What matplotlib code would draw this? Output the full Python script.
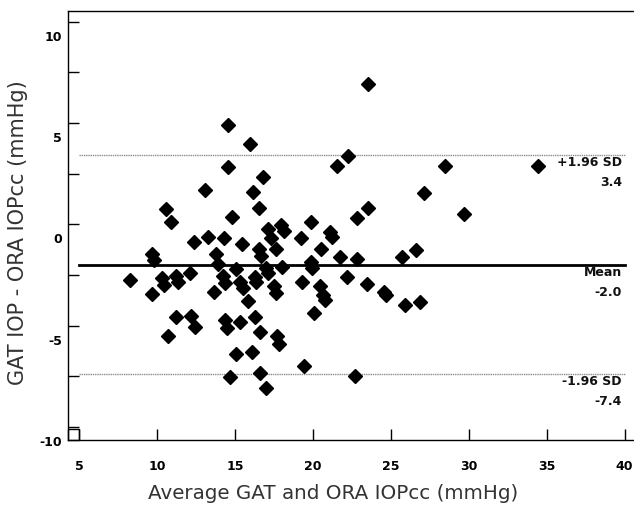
import matplotlib
matplotlib.use("Agg")
import matplotlib.pyplot as plt
import matplotlib.transforms as mtransforms
from matplotlib.patches import Rectangle

avg = [8.30, 9.68, 9.82, 9.68, 10.32, 10.46, 10.60, 10.92, 10.69, 11.23,
       11.35, 11.23, 12.14, 12.21, 12.45, 12.40, 13.10, 13.29, 13.64, 13.76,
       13.92, 14.30, 14.23, 14.39, 14.34, 14.48, 14.53, 14.53, 14.70, 14.79,
       15.07, 15.09, 15.35, 15.52, 15.35, 15.47, 15.82, 15.96, 16.08, 16.19,
       16.27, 16.36, 16.27, 16.57, 16.55, 16.69, 16.59, 16.62, 16.83, 17.01,
       16.97, 17.11, 17.13, 17.29, 17.53, 17.65, 17.62, 17.69, 17.83, 18.02,
       17.93, 18.18, 19.24, 19.33, 19.43, 19.87, 19.87, 19.96, 20.10, 20.46,
       20.55, 20.64, 20.76, 21.11, 21.25, 21.53, 21.74, 22.19, 22.26, 22.68,
       22.82, 22.85, 23.45, 23.52, 23.52, 24.58, 24.70, 25.73, 25.91, 26.62,
       26.85, 27.15, 28.49, 29.71, 34.46]
diff = [-2.75, -1.46, -1.76, -3.45, -2.63, -2.99, 0.76, 0.13, -5.51, -2.55,
        -2.86, -4.55, -2.40, -4.52, -5.05, -0.85, 1.68, -0.64, -3.34, -1.48,
        -1.96, -0.67, -2.55, -2.88, -4.74, -5.10, 4.92, 2.81, -7.51, 0.38,
        -2.20, -6.38, -2.86, -3.16, -4.80, -0.97, -3.78, 3.96, -6.28, 1.58,
        -2.60, -2.86, -4.59, 0.79, -1.20, -1.56, -5.31, -7.35, 2.35, -8.06,
        -2.17, -0.23, -2.42, -0.69, -3.04, -3.40, -1.22, -5.51, -5.89, -2.10,
        -0.03, -0.34, -0.67, -2.84, -7.00, 0.10, -1.84, -2.17, -4.39, -3.03,
        -1.22, -3.49, -3.73, -0.36, -0.61, 2.86, -1.60, -2.58, 3.37, -7.50,
        0.30, -1.69, -2.94, 0.82, 6.91, -3.35, -3.49, -1.61, -3.98, -1.27,
        -3.81, 1.53, 2.89, 0.49, 2.89]

mean_diff = -2.0
upper_loa = 3.4
lower_loa = -7.4
ref_labels = [("+1.96 SD", "3.4"), ("Mean", "-2.0"), ("-1.96 SD", "-7.4")]
x_ticks = [5, 10, 15, 20, 25, 30, 35, 40]
y_ticks = [-10, -5, 0, 5, 10]
y_minor = [-7.5, -2.5, 2.5, 7.5]

fig = plt.figure(figsize=(6.34, 5.10), dpi=100)
ax = fig.add_axes([67.7 / 634, 69.3 / 510, 1 - 67.7 / 634, 429 / 510])
ax.set_xlim(4.28, 40.6)
ax.set_ylim(-10.62, 10.54)

ax.plot(avg, diff, linestyle="none", marker="D", markersize=7.3,
        color="black", zorder=3)

ax.plot([5, 40], [mean_diff, mean_diff], color="black", lw=2.0, zorder=2)
for v in (upper_loa, lower_loa):
    ax.plot([5, 40], [v, v], color="#8c8c8c", lw=1.0, linestyle=(0, (1, 0.6)),
            zorder=2)

for (l1, l2), v in zip(ref_labels, [upper_loa, mean_diff, lower_loa]):
    ax.annotate(l1, xy=(40, v), xytext=(-2, -4.5), textcoords="offset points",
                ha="right", va="center", fontsize=9, fontweight="bold",
                color="#111111")
    ax.annotate(l2, xy=(40, v), xytext=(-2, -19), textcoords="offset points",
                ha="right", va="center", fontsize=9, fontweight="bold",
                color="#111111")

ax.set_xticks(x_ticks)
ax.set_xticklabels([str(t) for t in x_ticks])
ax.set_yticks(y_ticks)
ax.set_yticklabels([str(t) for t in y_ticks])
ax.set_yticks(y_minor, minor=True)
ax.tick_params(axis="both", which="both", direction="in", length=8,
               width=1, colors="black")
ax.tick_params(axis="x", which="major", pad=14, labelsize=9)
ax.tick_params(axis="y", which="major", pad=4, labelsize=9)
for lab in ax.get_xticklabels() + ax.get_yticklabels():
    lab.set_fontweight("bold")
offset = mtransforms.ScaledTranslation(0, -13 / 100, fig.dpi_scale_trans)
for lab in ax.get_yticklabels():
    lab.set_transform(lab.get_transform() + offset)

for side in ("left", "bottom", "top"):
    ax.spines[side].set_linewidth(1.0)
ax.spines["right"].set_visible(False)

ax.add_patch(Rectangle((4.28, -10.62), 5 - 4.28, 0.53, fill=False,
                       edgecolor="black", lw=1.0, zorder=4, clip_on=False))

fig.text(333 / 634, 1 - 494 / 510, "Average GAT and ORA IOPcc (mmHg)",
         ha="center", va="center", fontsize=14.3, color="#333333")
fig.text(18 / 634, 1 - 233 / 510, "GAT IOP - ORA IOPcc (mmHg)",
         ha="center", va="center", fontsize=15, color="#333333",
         rotation=90)

fig.savefig("out.png", dpi=100)
